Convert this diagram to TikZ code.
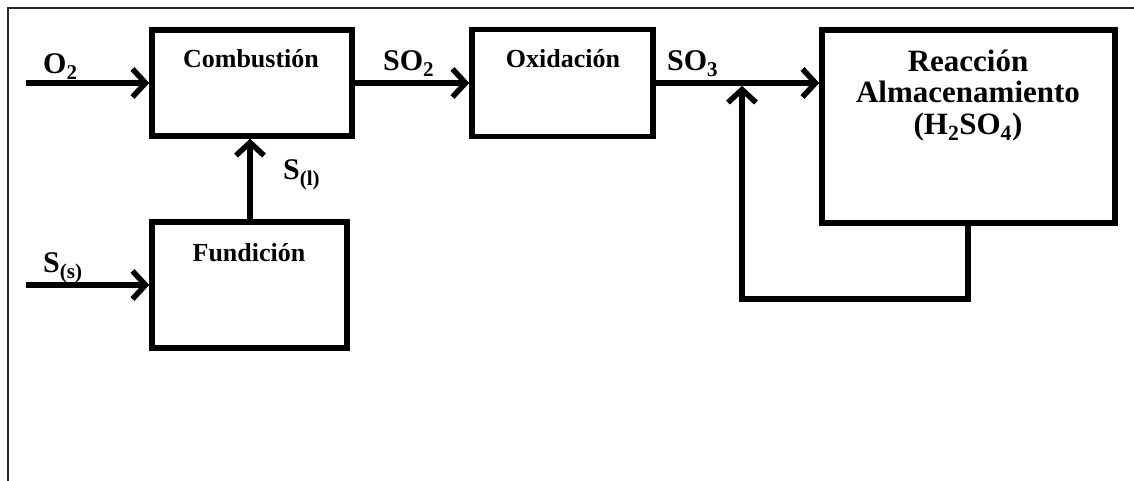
\documentclass[tikz,border=0pt]{standalone}
\usepackage{fontspec}
\setmainfont{Liberation Serif}
\usetikzlibrary{arrows.meta}
\tikzset{
  x=1pt, y=-1pt,
  blk/.style={draw, line width=5.5pt, minimum width=#1, inner sep=0pt},
  flow/.style={line width=5.5pt, -{Straight Barb[length=13pt,width=28pt]}},
  title/.style={font=\fontsize{26}{30}\selectfont\bfseries, anchor=base, inner sep=0pt},
  big/.style={font=\fontsize{31}{31}\selectfont\bfseries, anchor=base, inner sep=0pt},
  lbl/.style={font=\fontsize{30}{36}\selectfont\bfseries, anchor=base west, inner sep=0pt},
}
\begin{document}
\begin{tikzpicture}
\useasboundingbox (0,0) rectangle (1134,481);
\draw[line width=1.6pt, black!85] (8,481) -- (8,8) -- (1134,8);

\node[blk=200pt, minimum height=106pt] (comb) at (252,83) {};
\node[blk=195pt, minimum height=126pt] (fund) at (249.5,285) {};
\node[blk=181pt, minimum height=107pt] (oxid) at (562.5,83) {};
\node[blk=293pt, minimum height=193pt] (reac) at (968.5,126.5) {};

\node[title] (tcomb) at (251,68) {Combustión};
\node[title] (toxid) at (563,68) {Oxidación};
\node[title] (tfund) at (249,261) {Fundición};
\node[big] (tr1) at (968,72) {Reacción};
\node[big] (tr2) at (968,103) {Almacenamiento};
\node[big] (tr3) at (968,135) {(H\textsubscript{2}SO\textsubscript{4})};

\node[lbl] (lo2) at (43,74) {O\textsubscript{2}};
\node[lbl] (lso2) at (383,71) {SO\textsubscript{2}};
\node[lbl] (lso3) at (667,71) {SO\textsubscript{3}};
\node[lbl] (lsl) at (283,179) {S\textsubscript{(l)}};
\node[lbl] (lss) at (43,272) {S\textsubscript{(s)}};

\coordinate (o2s) at (26,83);
\coordinate (sss) at (26,285);
\coordinate (junc) at (742,83);

\draw[flow] (o2s) -- (comb.west);
\draw[flow] (sss) -- (fund.west);
\draw[flow] (fund.north -| 250,0) -- (comb.south -| 250,0);
\draw[flow] (comb.east) -- (oxid.west);
\draw[flow] (oxid.east) -- (oxid.east -| reac.west);
\draw[flow, shorten >=2.8pt] (reac.south -| 968,0) -- (968,299) -| (junc);
\end{tikzpicture}
\end{document}
